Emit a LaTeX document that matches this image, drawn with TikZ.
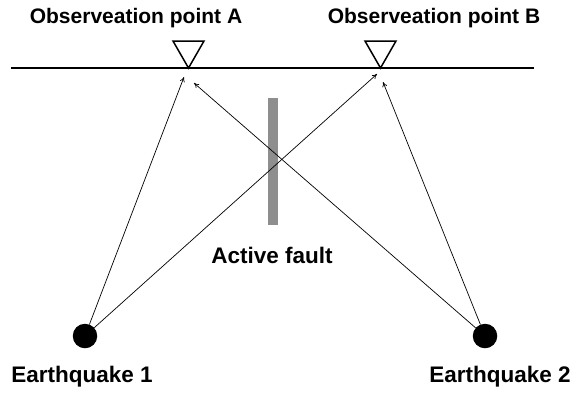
\documentclass[tikz,border=0pt]{standalone}
\usepackage{fontspec}
\setmainfont{Liberation Sans}
\usetikzlibrary{arrows.meta}
\begin{document}
\begin{tikzpicture}[x=1pt,y=-1pt,
  lbl/.style={font=\fontsize{21}{25}\selectfont\bfseries, inner sep=0pt, anchor=base},
  lblbig/.style={lbl, font=\fontsize{22.5}{27}\selectfont\bfseries},
  quake/.style={circle, fill=black, minimum size=24.5pt, inner sep=0pt},
  ray/.style={line width=0.7pt, -{To[length=5pt,width=5pt]}},
  station/.style={line width=1.5pt, line join=miter}]
\useasboundingbox (0,0) rectangle (575,392);
% ground
\coordinate (gl) at (11,68);
\coordinate (gr) at (534,68);
\draw[line width=1.4pt] (gl) -- (gr);
% stations
\draw[station] (173,41) -- (204,41) -- (188.5,68) -- cycle;
\draw[station] (365,41) -- (396,41) -- (380.5,68) -- cycle;
% fault
\fill[fill={rgb,255:red,142;green,142;blue,142}] (268,98) rectangle (278,225);
% labels
\node[lbl] (la) at (136,23) {Observeation point A};
\node[lbl] (lb) at (434,23) {Observeation point B};
\node[lblbig] (lf) at (272,263) {Active fault};
\node[lblbig] (l1) at (82,382) {Earthquake 1};
\node[lblbig] (l2) at (500,382) {Earthquake 2};
% quakes
\node[quake] (e1) at (85,336) {};
\node[quake] (e2) at (485,336) {};
% arrow ends
\coordinate (a1) at (184,77);
\coordinate (a2) at (194,83);
\coordinate (b1) at (377,74);
\coordinate (b2) at (383,82);
\draw[ray] (e1) -- (a1);
\draw[ray] (e1) -- (b1);
\draw[ray] (e2) -- (a2);
\draw[ray] (e2) -- (b2);
\end{tikzpicture}
\end{document}
